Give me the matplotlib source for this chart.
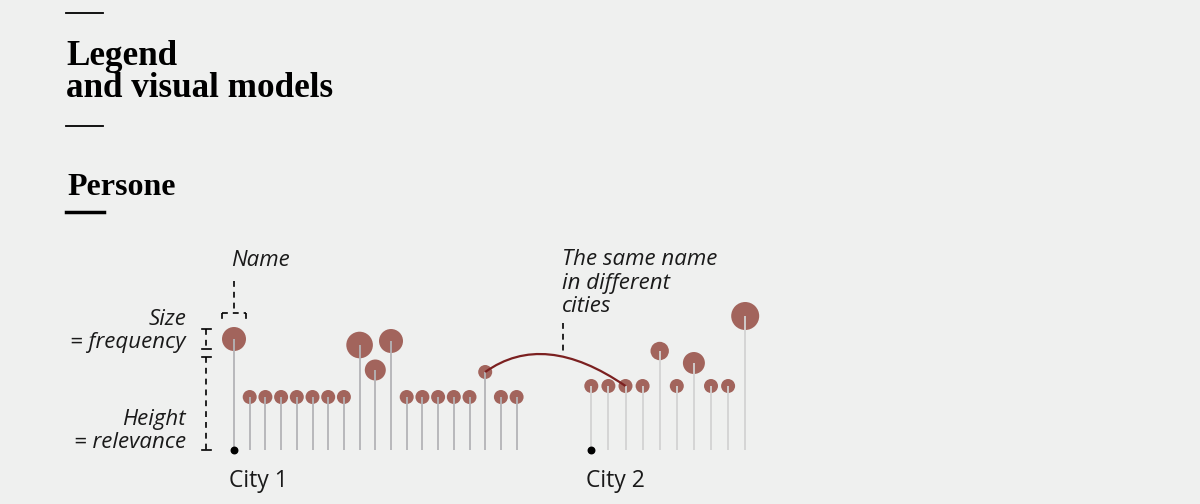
"""
Legend and visual models — lollipop legend (persone per città)
"""
import matplotlib
matplotlib.use('Agg')
import numpy as np
import matplotlib.pyplot as plt
from matplotlib.path import Path
from matplotlib.patches import PathPatch

# ===== Dati =====
# altezza = rilevanza (px sopra la linea di base), raggio = frequenza (px)
city1_relevance = [111, 53, 53, 53, 53, 53, 53, 53, 105, 80, 109, 53, 53, 53, 53, 53, 78, 53, 53]
city1_frequency = [12, 7, 7, 7, 7, 7, 7, 7, 13.3, 10.5, 12, 7, 7, 7, 7, 7, 7, 7, 7]
city2_relevance = [64, 64, 64, 64, 99, 64, 87, 64, 64, 134]
city2_frequency = [7, 7, 7, 7, 9.2, 7, 11, 7, 7, 14]
city_labels = ['City 1', 'City 2']
same_name = (16, 2)  # indice nella città 1 -> indice nella città 2

# ===== Stile =====
BG = '#eff0ef'
DOT = '#a2645c'
ARC = '#7b2020'
STEM1 = '#b4b4b7'
STEM2 = '#d3d3d3'
SERIF = ['Liberation Serif', 'DejaVu Serif']
SANS = ['Open Sans', 'DejaVu Sans']

W, H, BASE = 1200, 504, 450

fig = plt.figure(figsize=(12, 5.04), dpi=100, facecolor=BG)
ax = fig.add_axes([0, 0, 1, 1])
ax.set_facecolor(BG)
ax.set_xlim(0, W)
ax.set_ylim(BASE - H, BASE)   # y=0 sulla linea di base, unità = pixel
ax.axis('off')


def Y(py):
    """pixel dall'alto -> coordinata y"""
    return BASE - py


def s_of(r):
    return (2 * r * 0.72) ** 2


x1 = 234 + 15.7 * np.arange(len(city1_relevance))
x2 = 591.3 + 17.1 * np.arange(len(city2_relevance))

for xs, rel, freq, stem_c in [(x1, city1_relevance, city1_frequency, STEM1),
                              (x2, city2_relevance, city2_frequency, STEM2)]:
    rel = np.array(rel)
    freq = np.array(freq)
    ax.scatter(xs, rel, s=s_of(freq), color=DOT, linewidths=0, zorder=2)
    ax.vlines(xs, 0, rel, color=stem_c, lw=1.3, zorder=3)
    ax.scatter([xs[0]], [0], s=22, color='black', zorder=4)

# ===== Arco: stesso nome in città diverse =====
i1, i2 = same_name
p0 = (x1[i1], city1_relevance[i1])
p2 = (x2[i2], city2_relevance[i2])
ctrl = (544, Y(330))
arc = PathPatch(Path([p0, ctrl, p2], [Path.MOVETO, Path.CURVE3, Path.CURVE3]),
                facecolor='none', edgecolor=ARC, lw=1.6, zorder=5)
ax.add_patch(arc)

dash = dict(color='black', lw=1.2, linestyle=(0, (3.5, 3)), zorder=4)
ax.plot([563, 563], [Y(323), Y(354)], **dash)

# ===== Annotazioni a sinistra =====
ax.plot([234, 234], [Y(281), Y(313)], **dash)
ax.plot([222, 246], [Y(313), Y(313)], **dash)
ax.plot([222, 222], [Y(313), Y(321)], **dash)
ax.plot([246, 246], [Y(313), Y(321)], **dash)

ax.plot([206, 206], [Y(329), Y(349)], **dash)
ax.plot([202, 211], [Y(329), Y(329)], color='black', lw=1.2)
ax.plot([202, 211], [Y(349), Y(349)], color='black', lw=1.2)
ax.plot([206, 206], [Y(357), Y(450)], **dash)
ax.plot([202, 211], [Y(357), Y(357)], color='black', lw=1.2)
ax.plot([202, 211], [Y(450), Y(450)], color='black', lw=1.2)

it = dict(family=SANS, style='italic', fontsize=16, color='#1a1a1a')
ax.text(231, Y(266), 'Name', ha='left', va='baseline', **it)
ax.text(186, Y(325), 'Size', ha='right', va='baseline', **it)
ax.text(186, Y(348), '= frequency', ha='right', va='baseline', **it)
ax.text(186, Y(425), 'Height', ha='right', va='baseline', **it)
ax.text(186, Y(448), '= relevance', ha='right', va='baseline', **it)
for k, line in enumerate(['The same name', 'in different', 'cities']):
    ax.text(562, Y(265 + 23.5 * k), line, ha='left', va='baseline', **it)

for xs, lab in zip([x1, x2], city_labels):
    ax.text(xs[0] - 5, Y(487), lab, ha='left', va='baseline', family=SANS,
            fontsize=16.5, color='#1a1a1a')

# ===== Titoli =====
ax.plot([66, 103], [Y(13), Y(13)], color='black', lw=1.3)
ax.text(66, Y(65), 'Legend', ha='left', va='baseline',
        family=SERIF, fontweight='bold', fontsize=25.3)
ax.text(66, Y(97), 'and visual models', ha='left', va='baseline',
        family=SERIF, fontweight='bold', fontsize=25.3)
ax.plot([66, 103], [Y(126), Y(126)], color='black', lw=1.3)
ax.text(67, Y(195), 'Persone', ha='left', va='baseline',
        family=SERIF, fontweight='bold', fontsize=23)
ax.plot([66, 104], [Y(212), Y(212)], color='black', lw=2.5)

fig.savefig('out.png', dpi=100, facecolor=BG)
